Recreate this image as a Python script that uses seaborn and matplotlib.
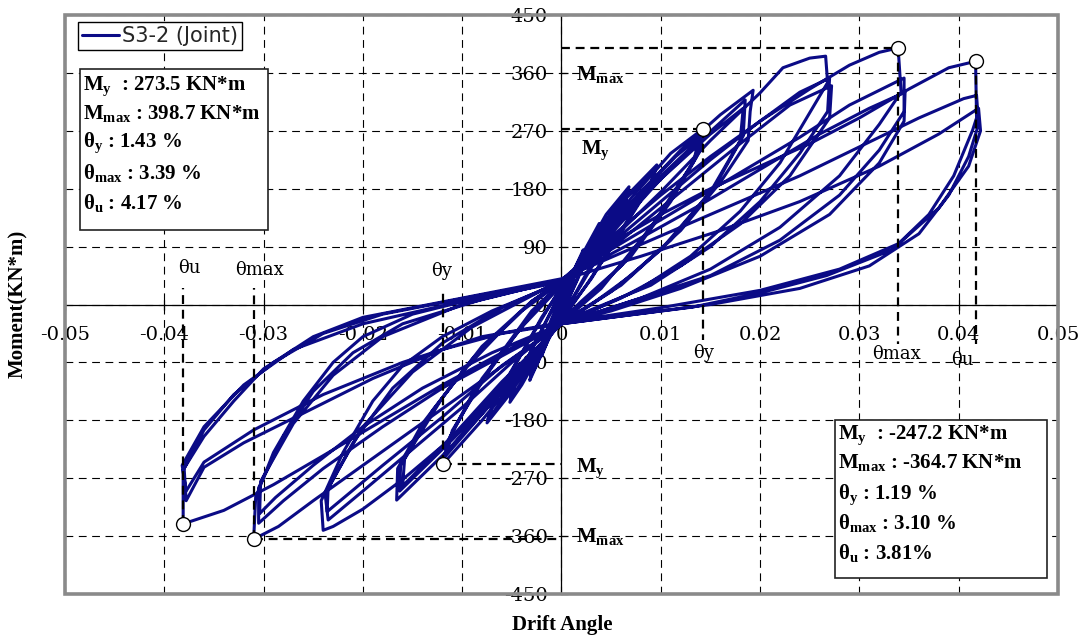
import matplotlib
matplotlib.use("Agg")
import matplotlib.pyplot as plt
import seaborn as sns
import pandas as pd
from matplotlib.patches import Rectangle
from matplotlib.ticker import FixedLocator, FixedFormatter

sns.set_theme(style="white")
plt.rcParams["font.family"] = ["DejaVu Serif"]
plt.rcParams["axes.unicode_minus"] = False
plt.rcParams["mathtext.fontset"] = "custom"
plt.rcParams["mathtext.rm"] = "Liberation Serif"
plt.rcParams["mathtext.bf"] = "Liberation Serif:bold"
plt.rcParams["mathtext.it"] = "Liberation Serif:italic"

# ---------------- data (drift angle, moment kN*m) ----------------
level_a = [(0, 0), (0.001, 45), (0.0022, 85), (0.0019, 68), (0.0008, 25), (0, 0), (-0.001, -42), (-0.002, -80),
           (-0.0017, -62), (-0.0007, -22), (0, 5), (0.0012, 52), (0.0022, 82), (0.0018, 62), (0.0006, 15),
           (-0.0005, -20), (-0.002, -78), (-0.0016, -56), (-0.0005, -12), (0, 8)]
level_b = [(0.002, 75), (0.0038, 126), (0.0034, 104), (0.002, 55), (0.0005, 0), (-0.0012, -50), (-0.0032, -118),
           (-0.0028, -94), (-0.0015, -45), (0, 12), (0.002, 70), (0.0037, 120), (0.0032, 95), (0.0015, 35), (0, -12),
           (-0.0015, -60), (-0.0031, -112), (-0.0026, -84), (-0.0012, -30), (0, 15)]
level_c = [(0.002, 72), (0.0045, 140), (0.0068, 183), (0.0064, 158), (0.004, 90), (0.0015, 20), (0, -18),
           (-0.002, -70), (-0.004, -125), (-0.0052, -152), (-0.0048, -128), (-0.003, -70), (-0.001, -10), (0, 20),
           (0.003, 95), (0.0055, 155), (0.0067, 176), (0.0062, 148), (0.0035, 70), (0.001, 5), (0, -20),
           (-0.0025, -85), (-0.0051, -146), (-0.0046, -120), (-0.0025, -55), (0, 22)]
level_d = [(0.003, 95), (0.006, 160), (0.0096, 217), (0.0092, 194), (0.006, 115), (0.003, 40), (0, -22),
           (-0.003, -90), (-0.0055, -145), (-0.0075, -184), (-0.007, -158), (-0.0045, -90), (-0.002, -20), (0, 25),
           (0.003, 90), (0.0065, 165), (0.0094, 208), (0.0089, 184), (0.0055, 100), (0.0025, 30), (0, -25),
           (-0.003, -88), (-0.0074, -178), (-0.0068, -150), (-0.004, -75), (-0.0015, -10), (0, 28)]
level_e = [(0.003, 90), (0.007, 165), (0.011, 235), (0.0143, 273.5), (0.014, 240), (0.011, 160), (0.007, 75),
           (0.003, 15), (0, -25), (-0.004, -105), (-0.008, -180), (-0.0119, -247.2), (-0.0115, -214), (-0.009, -140),
           (-0.005, -55), (-0.002, 5), (0, 30),
           (0.004, 105), (0.008, 175), (0.0115, 230), (0.014, 262), (0.0136, 230), (0.010, 140), (0.006, 60),
           (0.002, 5), (0, -25), (-0.004, -100), (-0.008, -170), (-0.0117, -236), (-0.0112, -205), (-0.008, -115),
           (-0.004, -35), (0, 30),
           (0.004, 100), (0.009, 185), (0.0138, 255), (0.0133, 222), (0.009, 120), (0.004, 25), (0, -28),
           (-0.005, -115), (-0.0115, -228), (-0.011, -196), (-0.007, -95), (-0.003, -10), (0, 32)]
level_f = [(0.004, 100), (0.008, 175), (0.012, 240), (0.016, 295), (0.0193, 333), (0.019, 300), (0.0188, 255),
           (0.016, 190), (0.012, 115), (0.007, 45), (0.003, 0), (0, -28),
           (-0.004, -100), (-0.008, -170), (-0.012, -235), (-0.0166, -304), (-0.0165, -255), (-0.014, -185),
           (-0.010, -105), (-0.006, -40), (-0.003, 5), (0, 35),
           (0.004, 95), (0.009, 180), (0.014, 255), (0.0185, 318), (0.0183, 262), (0.0155, 185), (0.011, 100),
           (0.006, 30), (0, -28),
           (-0.005, -110), (-0.010, -195), (-0.0163, -290), (-0.0162, -250), (-0.013, -165), (-0.009, -85),
           (-0.004, -10), (0, 35),
           (0.005, 110), (0.010, 195), (0.015, 265), (0.0183, 305), (0.018, 255), (0.015, 175), (0.010, 85),
           (0.005, 20), (0, -30),
           (-0.006, -120), (-0.011, -205), (-0.016, -282), (-0.0158, -240), (-0.012, -145), (-0.008, -65),
           (-0.003, 5), (0, 38)]
level_g = [(0.005, 100), (0.010, 175), (0.015, 255), (0.020, 329), (0.0223, 368), (0.025, 383), (0.0266, 386),
           (0.0268, 345), (0.025, 298), (0.022, 220), (0.018, 145), (0.013, 75), (0.008, 25), (0.003, -10), (0, -28),
           (-0.004, -95), (-0.008, -160), (-0.012, -220), (-0.016, -272), (-0.020, -318), (-0.023, -345),
           (-0.024, -351), (-0.0242, -305), (-0.022, -230), (-0.019, -150), (-0.016, -95), (-0.012, -50),
           (-0.007, -10), (0, 35),
           (0.005, 95), (0.010, 160), (0.015, 225), (0.020, 285), (0.024, 330), (0.027, 352), (0.0268, 300),
           (0.024, 235), (0.020, 160), (0.015, 90), (0.009, 30), (0.003, -8), (0, -28),
           (-0.005, -90), (-0.010, -160), (-0.015, -225), (-0.020, -290), (-0.0235, -335), (-0.0238, -295),
           (-0.021, -215), (-0.017, -130), (-0.012, -60), (-0.006, -5), (0, 36),
           (0.006, 100), (0.012, 175), (0.018, 250), (0.023, 310), (0.0272, 340), (0.027, 290), (0.023, 200),
           (0.018, 125), (0.012, 60), (0.006, 10), (0, -30),
           (-0.006, -95), (-0.012, -175), (-0.018, -250), (-0.0236, -322), (-0.0235, -285), (-0.020, -190),
           (-0.015, -105), (-0.009, -35), (0, 38)]
level_h = [(0.005, 105), (0.010, 170), (0.015, 230), (0.020, 285), (0.025, 335), (0.029, 372), (0.032, 392),
           (0.0339, 398.7), (0.0342, 330), (0.032, 280), (0.028, 200), (0.022, 120), (0.015, 55), (0.008, 10),
           (0, -30),
           (-0.005, -85), (-0.010, -140), (-0.015, -195), (-0.020, -250), (-0.025, -305), (-0.0285, -345),
           (-0.031, -364.7), (-0.0308, -300), (-0.029, -230), (-0.026, -150), (-0.023, -90), (-0.020, -50),
           (-0.015, -15), (-0.008, 12), (0, 38),
           (0.006, 95), (0.012, 150), (0.018, 205), (0.024, 260), (0.029, 310), (0.0345, 352), (0.0345, 300),
           (0.032, 240), (0.028, 170), (0.022, 100), (0.015, 45), (0.007, 5), (0, -30),
           (-0.006, -80), (-0.012, -130), (-0.018, -190), (-0.024, -255), (-0.028, -305), (-0.0305, -340),
           (-0.0305, -285), (-0.028, -205), (-0.025, -135), (-0.021, -75), (-0.016, -30), (-0.008, 8), (0, 38),
           (0.007, 95), (0.014, 155), (0.020, 210), (0.026, 265), (0.031, 305), (0.0346, 330), (0.0345, 285),
           (0.032, 220), (0.027, 140), (0.020, 75), (0.012, 25), (0.005, -10), (0, -30),
           (-0.007, -75), (-0.014, -130), (-0.020, -190), (-0.025, -250), (-0.0288, -300), (-0.0304, -325),
           (-0.0303, -275), (-0.027, -185), (-0.023, -110), (-0.018, -50), (-0.010, 0), (0, 38)]
level_i = [(0.005, 95), (0.010, 140), (0.015, 180), (0.020, 215), (0.025, 250), (0.030, 290), (0.035, 335),
           (0.039, 368), (0.0417, 378), (0.0418, 290), (0.0414, 271), (0.0395, 200), (0.037, 140), (0.0333, 85),
           (0.0267, 45), (0.020, 18), (0.0132, -4), (0.006, -18), (0, -30),
           (-0.006, -75), (-0.012, -125), (-0.018, -180), (-0.024, -235), (-0.029, -280), (-0.034, -320),
           (-0.0381, -341), (-0.0381, -257), (-0.036, -205), (-0.033, -150), (-0.030, -100), (-0.025, -50),
           (-0.020, -20), (-0.010, 10), (0, 40),
           (0.006, 80), (0.012, 120), (0.018, 160), (0.024, 200), (0.030, 245), (0.036, 290), (0.0405, 320),
           (0.0418, 325), (0.042, 280), (0.041, 230), (0.039, 170), (0.036, 110), (0.031, 60), (0.024, 25),
           (0.015, 0), (0.006, -18), (0, -30),
           (-0.006, -45), (-0.012, -70), (-0.019, -115), (-0.026, -169), (-0.032, -215), (-0.036, -253),
           (-0.0378, -305), (-0.038, -255), (-0.036, -195), (-0.033, -140), (-0.029, -90), (-0.024, -45),
           (-0.018, -15), (-0.009, 12), (0, 38),
           (0.008, 75), (0.016, 115), (0.024, 160), (0.032, 215), (0.038, 265), (0.042, 305), (0.0422, 270),
           (0.041, 215), (0.038, 150), (0.034, 95), (0.028, 55), (0.020, 22), (0.010, -5), (0, -28),
           (-0.008, -50), (-0.016, -90), (-0.024, -140), (-0.031, -195), (-0.036, -245), (-0.0378, -290),
           (-0.0382, -250), (-0.036, -190), (-0.032, -125), (-0.027, -70), (-0.020, -30), (-0.010, 5), (0, 35)]

x_ticks = [-0.05, -0.04, -0.03, -0.02, -0.01, 0, 0.01, 0.02, 0.03, 0.04, 0.05]
x_tick_labels = ["-0.05", "-0.04", "-0.03", "-0.02", "-0.01", "0", "0.01", "0.02", "0.03", "0.04", "0.05"]
y_ticks = [-450, -360, -270, -180, -90, 0, 90, 180, 270, 360, 450]
y_tick_labels = ["-450", "-360", "-270", "-180", "-90", "0", "90", "180", "270", "360", "450"]

# characteristic points
pos_my, pos_mmax, pos_ty, pos_tmax, pos_tu = 273.5, 398.7, 1.43, 3.39, 4.17
neg_my, neg_mmax, neg_ty, neg_tmax, neg_tu = -247.2, -364.7, 1.19, 3.10, 3.81
pos_mu = 378.0     # moment at theta_u (read)
neg_mu = -341.0

series_name = "S3-2 (Joint)"
line_color = "#0b0b86"

# ---------------- figure ----------------
pts = [p for lv in (level_a, level_b, level_c, level_d, level_e, level_f, level_g, level_h, level_i) for p in lv]
df = pd.DataFrame(pts, columns=["drift", "moment"])

fig = plt.figure(figsize=(10.86, 6.37), dpi=100)
fig.patch.set_facecolor("white")
ax = fig.add_axes([0.05985, 0.0675, 0.91436, 0.90895])
ax.set_facecolor("white")

sns.lineplot(data=df, x="drift", y="moment", sort=False, estimator=None, color=line_color,
             linewidth=2.2, ax=ax, label=series_name, zorder=3)

ax.set_xlim(-0.05, 0.05)
ax.set_ylim(-450, 450)
ax.xaxis.set_major_locator(FixedLocator(x_ticks))
ax.xaxis.set_major_formatter(FixedFormatter(x_tick_labels))
ax.yaxis.set_major_locator(FixedLocator(y_ticks))
ax.yaxis.set_major_formatter(FixedFormatter(y_tick_labels))
ax.grid(True, color="black", linestyle=(0, (7, 5)), linewidth=0.8, zorder=1)
ax.set_axisbelow(True)

for s in ("top", "right"):
    ax.spines[s].set_visible(False)
ax.spines["left"].set_position(("data", 0))
ax.spines["bottom"].set_position(("data", 0))
for s in ("left", "bottom"):
    ax.spines[s].set_color("black")
    ax.spines[s].set_linewidth(0.9)
    ax.spines[s].set_zorder(2)
ax.tick_params(axis="y", direction="in", length=5, width=0.9, color="black", pad=10,
               labelsize=14, labelcolor="black", left=True)
ax.tick_params(axis="x", direction="inout", length=7, width=0.9, color="black", pad=12,
               labelsize=14, labelcolor="black", bottom=True)
ax.set_xlabel("")
ax.set_ylabel("")

ax.add_patch(Rectangle((0, 0), 1, 1, transform=ax.transAxes, fill=False, edgecolor="#8a8a8a",
                       linewidth=2.6, clip_on=False, zorder=10))

# reference dashed lines
ref = dict(color="black", linewidth=1.6, linestyle=(0, (4, 2.6)), zorder=4)
t_pos_y, t_pos_max, t_pos_u = pos_ty / 100, pos_tmax / 100, pos_tu / 100
t_neg_y, t_neg_max, t_neg_u = -neg_ty / 100, -neg_tmax / 100, -neg_tu / 100
ax.plot([0, t_pos_max], [pos_mmax, pos_mmax], **ref)
ax.plot([0, t_pos_y], [pos_my, pos_my], **ref)
ax.plot([t_pos_max, t_pos_max], [pos_mmax, -62], **ref)
ax.plot([t_pos_y, t_pos_y], [pos_my, -55], **ref)
ax.plot([t_pos_u, t_pos_u], [pos_mu, -62], **ref)
ax.plot([t_neg_max, 0], [neg_mmax, neg_mmax], **ref)
ax.plot([t_neg_y, 0], [neg_my, neg_my], **ref)
ax.plot([t_neg_max, t_neg_max], [neg_mmax, 25], **ref)
ax.plot([t_neg_y, t_neg_y], [neg_my, 25], **ref)
ax.plot([t_neg_u, t_neg_u], [neg_mu, 25], **ref)

ax.plot([t_pos_y, t_pos_max, t_pos_u, t_neg_y, t_neg_max, t_neg_u],
        [pos_my, pos_mmax, pos_mu, neg_my, neg_mmax, neg_mu],
        linestyle="none", marker="o", markersize=10, markerfacecolor="white",
        markeredgecolor="black", markeredgewidth=1.0, zorder=6)

# theta labels
tfont = dict(fontsize=13, family="DejaVu Serif", color="black", ha="center", va="center", zorder=7)
ax.text(t_neg_u + 0.0006, 57, "θu", **tfont)
ax.text(t_neg_max + 0.0006, 53, "θmax", **tfont)
ax.text(t_neg_y - 0.0002, 52, "θy", **tfont)
ax.text(t_pos_y, -75, "θy", **tfont)
ax.text(t_pos_max - 0.0002, -77, "θmax", **tfont)
ax.text(t_pos_u - 0.0013, -86, "θu", **tfont)

# M labels beside the y axis
mfont = dict(fontsize=15, family="Liberation Serif", weight="bold", color="black",
             ha="center", va="center", zorder=7)
ax.text(0.0039, 358, r"$\mathbf{M_{max}}$", **mfont)
ax.text(0.0034, 240, r"$\mathbf{M_{y}}$", **mfont)
ax.text(0.0029, -255, r"$\mathbf{M_{y}}$", **mfont)
ax.text(0.0039, -360, r"$\mathbf{M_{max}}$", **mfont)

# info boxes
bfont = dict(fontsize=15, family="Liberation Serif", weight="bold", color="black",
             ha="left", va="center", transform=ax.transAxes, zorder=12)
ax.add_patch(Rectangle((0.0151, 0.6287), 0.1893, 0.2780, transform=ax.transAxes, facecolor="white",
                       edgecolor="#222222", linewidth=1.2, zorder=11))
box1 = [r"$\mathbf{M_y}$  : " + f"{pos_my:.1f} KN*m",
        r"$\mathbf{M_{max}}$ : " + f"{pos_mmax:.1f} KN*m",
        r"$\mathbf{θ_y}$ : " + f"{pos_ty:.2f} %",
        r"$\mathbf{θ_{max}}$ : " + f"{pos_tmax:.2f} %",
        r"$\mathbf{θ_u}$ : " + f"{pos_tu:.2f} %"]
for yy, s in zip([0.8774, 0.8307, 0.7789, 0.7271, 0.6753], box1):
    ax.text(0.0181, yy, s, **bfont)

ax.add_patch(Rectangle((0.7754, 0.0276), 0.2135, 0.2729, transform=ax.transAxes, facecolor="white",
                       edgecolor="#222222", linewidth=1.2, zorder=11))
box2 = [r"$\mathbf{M_y}$  : " + f"{neg_my:.1f} KN*m",
        r"$\mathbf{M_{max}}$ : " + f"{neg_mmax:.1f} KN*m",
        r"$\mathbf{θ_y}$ : " + f"{neg_ty:.2f} %",
        r"$\mathbf{θ_{max}}$ : " + f"{neg_tmax:.2f} %",
        r"$\mathbf{θ_u}$ : " + f"{neg_tu:.2f}%"]
for yy, s in zip([0.2746, 0.2263, 0.1710, 0.1226, 0.0708], box2):
    ax.text(0.7785, yy, s, **bfont)

# legend
handles, labels = ax.get_legend_handles_labels()
leg = ax.legend(handles, labels, loc="upper left", bbox_to_anchor=(0.0131, 0.9879), frameon=True,
                fancybox=False, framealpha=1, edgecolor="black", borderaxespad=0, borderpad=0.2,
                handlelength=1.75, handletextpad=0.15, prop={"family": "DejaVu Sans", "size": 15})
leg.get_frame().set_linewidth(1.0)
leg.set_zorder(12)

fig.text(0.0166, 0.5228, "Moment(KN*m)", rotation=90, ha="center", va="center",
         fontsize=15, family="Liberation Serif", weight="bold", color="black")
fig.text(0.5175, 0.0188, "Drift Angle", ha="center", va="center",
         fontsize=15, family="Liberation Serif", weight="bold", color="black")

fig.savefig("out.png", dpi=100, facecolor="white")
